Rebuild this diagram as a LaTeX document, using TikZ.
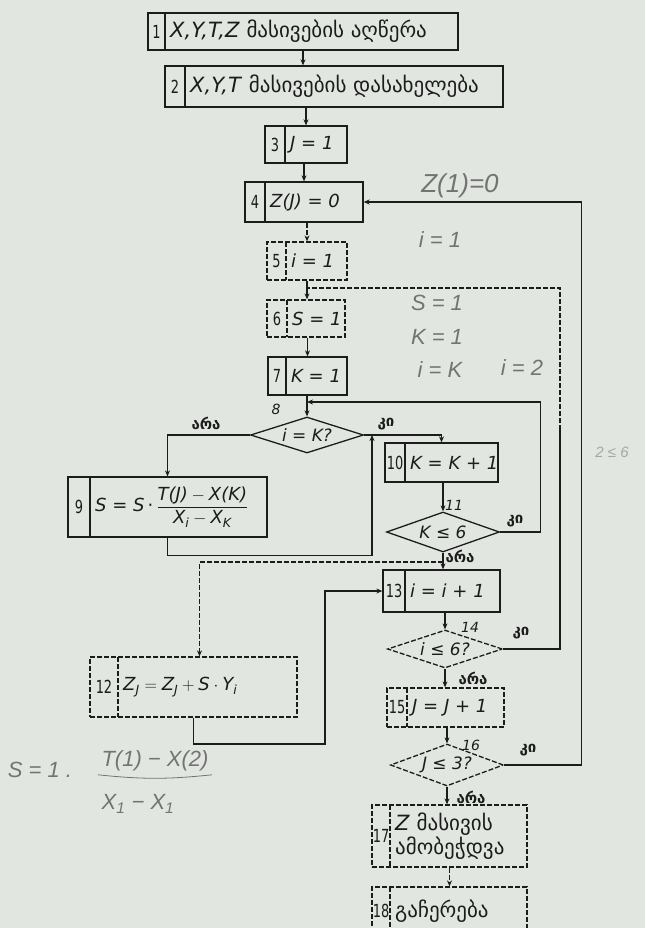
\documentclass[tikz,border=0pt]{standalone}
\usepackage{amsmath}
\usepackage{fontspec}
\setmainfont{DejaVu Sans}
\newfontfamily\handfont{Liberation Sans}
\newfontfamily\cellfont{DejaVu Sans}[FakeStretch=0.72]
\newcommand\geotxt{\fontsize{21}{25}\selectfont}
\usepackage{tikz}
\usetikzlibrary{shapes.geometric,arrows.meta}

\begin{document}
\begin{tikzpicture}[x=1pt,y=-1pt]
            \definecolor{paper}{RGB}{225,231,224}
            \definecolor{ink}{RGB}{28,28,28}
            \tikzset{box/.style={draw=ink,line width=1.3pt,inner sep=0pt}}
            \tikzset{wire/.style={draw=ink,line width=1.1pt}}
            \tikzset{faded/.style={dash pattern=on 5pt off 2pt}}
            \tikzset{cell/.style={font=\cellfont\fontsize{18}{20}\selectfont,text=ink,inner xsep=0pt}}
            \tikzset{txt/.style={font=\fontsize{18}{22}\selectfont,text=ink,anchor=west,align=left,inner xsep=5pt}}
            \tikzset{dec/.style={draw=ink,line width=1.3pt,diamond,aspect=3,inner sep=0pt,font=\fontsize{17}{19}\selectfont\itshape,text=ink}}
            \tikzset{arr/.style={wire,-{Stealth[length=6pt,width=5pt]}}}
            \tikzset{lbl/.style={font=\fontsize{15}{17}\selectfont\bfseries,text=ink}}
            \tikzset{numlbl/.style={font=\fontsize{14}{16}\selectfont\itshape,text=ink}}
            \tikzset{hand/.style={font=\handfont\itshape\fontsize{22}{24}\selectfont,text=black!55}}
            % \tikzset{box/.append style={very thick}}

            \fill[paper] (0,0) rectangle (645,928);
            \useasboundingbox (0,0) rectangle (645,928);

            \foreach \idx/\xa/\xs/\xb/\ya/\yb/\st/\tx in {
                1/148/165/458/13/50/solid/{\geotxt\textit{X,Y,T,Z} მასივების აღწერა},
                2/165/185/503/66/107/solid/{\geotxt\textit{X,Y,T} მასივების დასახელება},
                3/265/285/347/126/163/solid/{\textit{J = 1}},
                4/245/265/363/182/222/solid/{\textit{Z(J) = 0}},
                5/267/286/347/242/280/faded/{\textit{i = 1}},
                6/267/287/345/300/337/faded/{\textit{S = 1}},
                7/268/286/347/357/395/solid/{\textit{K = 1}},
                9/68/90/267/477/537/solid/{\textit{S = S}\,·\,$\dfrac{\textit{T(J)} - \textit{X(K)}}{\textit{X}_{\textit{i}} - \textit{X}_{\textit{K}}}$},
                10/385/405/498/443/482/solid/{\textit{K = K + 1}},
                12/90/118/297/657/717/faded/{$\textit{Z}_{\textit{J}} = \textit{Z}_{\textit{J}} + \textit{S}\cdot\textit{Y}_{\textit{i}}$},
                13/383/405/500/570/612/solid/{\textit{i = i + 1}},
                15/387/407/504/688/727/faded/{\textit{J = J + 1}},
                17/372/390/527/805/867/faded/{\geotxt\textit{Z} მასივის\\\geotxt ამობეჭდვა},
                18/372/390/527/887/935/faded/{\geotxt გაჩერება}}{
                \node[box,\st,minimum width={\xb-\xa},minimum height={\yb-\ya}] (b\idx) at ({(\xa+\xb)/2},{(\ya+\yb)/2}) {};
                \draw[box,\st] (\xs,\ya) -- (\xs,\yb);
                \node[cell] (n\idx) at ({(\xa+\xs)/2},{(\ya+\yb)/2}) {\idx};
                \node[txt] (t\idx) at (\xs,{(\ya+\yb)/2}) {\tx};
            }

            \node[dec,minimum width=113pt,minimum height=36pt] (d8) at (307,435) {i = K?};
            \node[dec,minimum width=113pt,minimum height=40pt] (d11) at (443,532) {K ≤ 6};
            \node[dec,faded,minimum width=115pt,minimum height=38pt] (d14) at (445,649) {i ≤ 6?};
            \node[dec,faded,minimum width=113pt,minimum height=42pt] (d16) at (447,765) {J ≤ 3?};

            \node[numlbl] (l8) at (276,409) {8};
            \node[lbl] (no8) at (206,423) {არა};
            \node[lbl] (yes8) at (386,424) {კი};
            \node[numlbl] (l11) at (454,505) {11};
            \node[lbl] (yes11) at (515,521) {კი};
            \node[lbl] (no11) at (460,556) {არა};
            \node[numlbl] (l14) at (470,627) {14};
            \node[lbl] (yes14) at (521,633) {კი};
            \node[lbl] (no14) at (473,678) {არა};
            \node[numlbl] (l16) at (471,745) {16};
            \node[lbl] (yes16) at (528,750) {კი};
            \node[lbl] (no16) at (471,797) {არა};

            \coordinate (j9) at (372,435);
            \coordinate (k8) at (307,402);
            \coordinate (j11) at (443,562);
            \coordinate (c12) at (325,744);
            \coordinate (k6) at (307,288);
            \coordinate (r14) at (560,430);

            \draw[arr] (b1.south) -- (b1.south |- b2.north);
            \draw[arr] (b3.north |- b2.south) -- (b3.north);
            \draw[arr] (b4.north |- b3.south) -- (b4.north);
            \draw[arr,faded] (b5.north |- b4.south) -- (b5.north);
            \draw[arr] (b5.south) -- (b5.south |- b6.north);
            \draw[arr] (b7.north |- b6.south) -- (b7.north);
            \draw[arr] (d8.north |- b7.south) -- (d8.north);
            \draw[arr] (d8.west) -| (b9.north);
            \draw[arr] (d8.east) -| (b10.north);
            \draw[arr] (b9.south) -- ++(0,18) -| (j9);
            \draw[arr] (d11.north |- b10.south) -- (d11.north);
            \draw[arr] (d11.east) -- ++(40,0) |- (k8);
            \draw[arr] (d11.south) -- (d11.south |- b13.north);
            \draw[arr,faded] (j11) -| ([xshift=6pt]b12.north);
            \draw[arr] (b12.south) |- (c12) |- (b13.west);
            \draw[arr] (d14.north |- b13.south) -- (d14.north);
            \draw[wire] (d14.east) -| (r14);
            \draw[wire,faded] (r14) |- (k6);
            \draw[arr] (d14.south) -- (d14.south |- b15.north);
            \draw[arr] (d16.north |- b15.south) -- (d16.north);
            \draw[arr] (d16.east) -- ++(77,0) |- (b4.east);
            \draw[arr] (d16.south) -- (d16.south |- b17.north);
            \draw[arr,faded] (b18.north |- b17.south) -- (b18.north);

            \node[hand,font=\handfont\itshape\fontsize{26}{28}\selectfont] (h1) at (460,186) {Z(1)=0};
            \node[hand] (h2) at (440,240) {i = 1};
            \node[hand] (h3) at (437,303) {S = 1};
            \node[hand] (h4) at (437,337) {K = 1};
            \node[hand] (h5) at (440,370) {i = K};
            \node[hand] (h6) at (522,368) {i = 2};
            \node[hand,font=\handfont\itshape\fontsize{15}{17}\selectfont,text=black!35] (h7) at (612,452) {2 ≤ 6};
            \node[hand] (h8) at (40,770) {S = 1 .};
            \node[hand] (h9) at (155,761) {T(1) − X(2)};
            \node[hand] (h10) at (138,804) {X\textsubscript{1} − X\textsubscript{1}};
            \draw[black!55,thick] (h9.south west) to[bend right=6] (h9.south east);
\end{tikzpicture}
\end{document}
